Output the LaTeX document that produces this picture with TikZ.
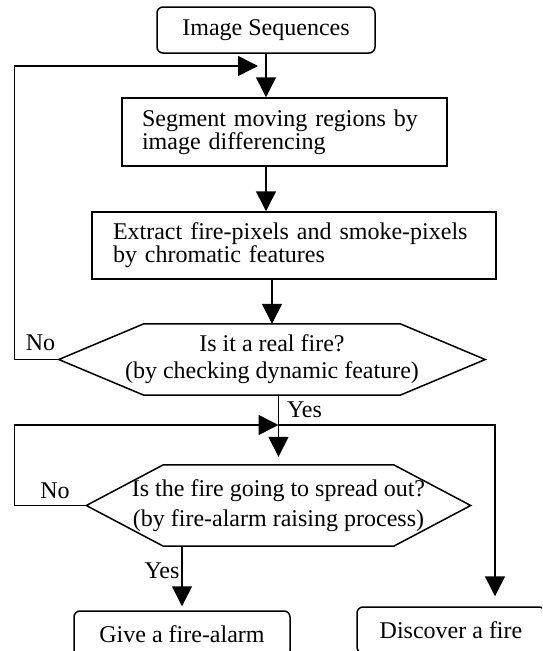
\documentclass[tikz,border=0pt]{standalone}
\usepackage{fontspec}
\setmainfont{Liberation Serif}
\usetikzlibrary{arrows.meta}

\tikzset{
  line/.style={line width=1.5pt},
  arr/.style={line, -{Triangle[length=20pt,width=20pt]}},
  terminal/.style={draw, line width=1.5pt, rounded corners=6pt, minimum height=46pt, inner sep=0pt},
  process/.style={draw, line width=1.5pt, align=left, inner ysep=0pt},
  decision/.style={align=center, inner sep=0pt},
  tag/.style={inner sep=0pt}
}

\begin{document}
\begin{tikzpicture}[x=1pt, y=-1pt, font=\fontsize{24}{20}\selectfont]
    \useasboundingbox (0,0) rectangle (542,651);
    \clip (0,0) rectangle (542,651);

    % start and processing boxes
    \node[terminal, minimum width=218pt] (seq) at (266,30) {Image Sequences};
    \node[process, text width=285pt, inner xsep=20pt, minimum height=68pt] (segment) at (284.5,132)
        {Segment moving regions by\\image differencing};
    \node[process, text width=362pt, inner xsep=21pt, minimum height=67pt] (extract) at (294,245.5)
        {Extract fire-pixels and smoke-pixels\\by chromatic features};

    % decisions
    \node[decision, minimum width=426pt, minimum height=71pt] (real) at (272,359.5)
        {Is it a real fire?\\[7pt](by checking dynamic feature)};
    \draw[line] (real.west) -- ([xshift=85pt]real.north west) -- ([xshift=-85pt]real.north east)
        -- (real.east) -- ([xshift=-85pt]real.south east) -- ([xshift=85pt]real.south west) -- cycle;

    \node[decision, minimum width=384pt, minimum height=81pt] (spread) at (278.5,505.5)
        {Is the fire going to spread out?\\[7pt](by fire-alarm raising process)};
    \draw[line] (spread.west) -- ([xshift=77pt]spread.north west) -- ([xshift=-77pt]spread.north east)
        -- (spread.east) -- ([xshift=-77pt]spread.south east) -- ([xshift=77pt]spread.south west) -- cycle;

    % end boxes
    \node[terminal, minimum width=216pt] (alarm) at (182,634) {Give a fire-alarm};
    \node[terminal, minimum width=188pt] (discover) at (451,630) {Discover a fire};

    % turning points
    \coordinate (fork) at (278.5,425);
    \coordinate (turn) at (495,425);
    \coordinate (back1) at (14.5,66);
    \coordinate (back2) at (14.5,425);

    % main flow
    \draw[arr] (seq.south) -- (seq.south |- segment.north);
    \draw[arr] (segment.south -| seq.south) -- (seq.south |- extract.north);
    \draw[arr] (real.north |- extract.south) -- (real.north);
    \draw[line] (real.south -| fork) -- (fork);
    \draw[arr, shorten >=8pt] (fork) -- (spread.north);
    \draw[arr, shorten >=10pt] (fork) -- (turn) -- (turn |- discover.north);
    \draw[arr, shorten >=4pt] (spread.south -| alarm.north) -- (alarm.north);

    % loops back
    \draw[arr, shorten >=8pt] (real.west) -| (back1) -- (back1 -| seq.south);
    \draw[arr] (spread.west) -| (back2) -- (fork);

    % labels
    \node[tag] (no1) at (40.5,343) {No};
    \node[tag] (no2) at (55,491) {No};
    \node[tag] (yes1) at (304.5,410) {Yes};
    \node[tag] (yes2) at (162,571) {Yes};
\end{tikzpicture}
\end{document}
